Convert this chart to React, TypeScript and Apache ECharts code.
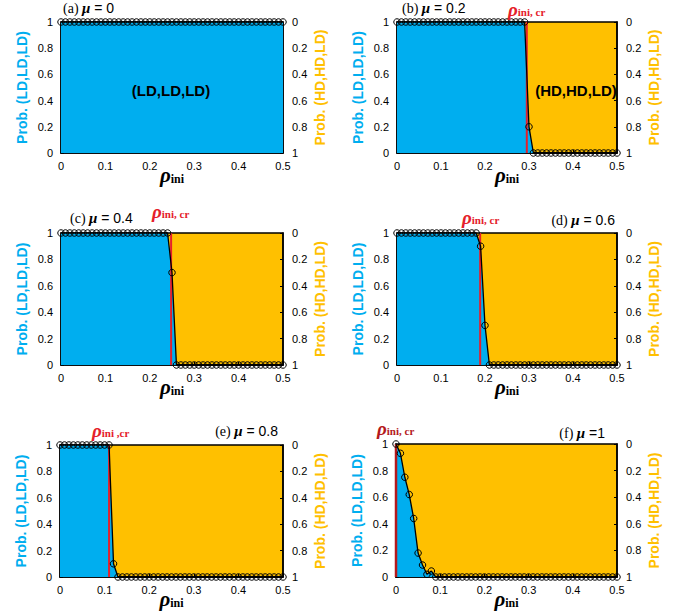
import React, { useEffect, useRef } from 'react';
import * as echarts from 'echarts';

// ---------------- data ----------------
const rhoIni = [
  0, 0.01, 0.02, 0.03, 0.04, 0.05, 0.06, 0.07, 0.08, 0.09,
  0.1, 0.11, 0.12, 0.13, 0.14, 0.15, 0.16, 0.17, 0.18, 0.19,
  0.2, 0.21, 0.22, 0.23, 0.24, 0.25, 0.26, 0.27, 0.28, 0.29,
  0.3, 0.31, 0.32, 0.33, 0.34, 0.35, 0.36, 0.37, 0.38, 0.39,
  0.4, 0.41, 0.42, 0.43, 0.44, 0.45, 0.46, 0.47, 0.48, 0.49, 0.5,
];

const panelLetters = ['(a)', '(b)', '(c)', '(d)', '(e)', '(f)'];
const muLabels = [' = 0', ' = 0.2', ' = 0.4', ' = 0.6', ' = 0.8', ' =1'];

// Prob. (LD,LD,LD) for mu = 0, 0.2, 0.4, 0.6, 0.8, 1
const probMu0 = [
  1, 1, 1, 1, 1, 1, 1, 1, 1, 1,
  1, 1, 1, 1, 1, 1, 1, 1, 1, 1,
  1, 1, 1, 1, 1, 1, 1, 1, 1, 1,
  1, 1, 1, 1, 1, 1, 1, 1, 1, 1,
  1, 1, 1, 1, 1, 1, 1, 1, 1, 1, 1,
];
const probMu02 = [
  1, 1, 1, 1, 1, 1, 1, 1, 1, 1,
  1, 1, 1, 1, 1, 1, 1, 1, 1, 1,
  1, 1, 1, 1, 1, 1, 1, 1, 1, 1,
  0.2, 0, 0, 0, 0, 0, 0, 0, 0, 0,
  0, 0, 0, 0, 0, 0, 0, 0, 0, 0, 0,
];
const probMu04 = [
  1, 1, 1, 1, 1, 1, 1, 1, 1, 1,
  1, 1, 1, 1, 1, 1, 1, 1, 1, 1,
  1, 1, 1, 1, 1, 0.7, 0, 0, 0, 0,
  0, 0, 0, 0, 0, 0, 0, 0, 0, 0,
  0, 0, 0, 0, 0, 0, 0, 0, 0, 0, 0,
];
const probMu06 = [
  1, 1, 1, 1, 1, 1, 1, 1, 1, 1,
  1, 1, 1, 1, 1, 1, 1, 1, 1, 0.9,
  0.3, 0, 0, 0, 0, 0, 0, 0, 0, 0,
  0, 0, 0, 0, 0, 0, 0, 0, 0, 0,
  0, 0, 0, 0, 0, 0, 0, 0, 0, 0, 0,
];
const probMu08 = [
  1, 1, 1, 1, 1, 1, 1, 1, 1, 1,
  1, 1, 0.1, 0, 0, 0, 0, 0, 0, 0,
  0, 0, 0, 0, 0, 0, 0, 0, 0, 0,
  0, 0, 0, 0, 0, 0, 0, 0, 0, 0,
  0, 0, 0, 0, 0, 0, 0, 0, 0, 0, 0,
];
const probMu1 = [
  1, 0.93, 0.75, 0.62, 0.44, 0.18, 0.09, 0.02, 0.045, 0,
  0, 0, 0, 0, 0, 0, 0, 0, 0, 0,
  0, 0, 0, 0, 0, 0, 0, 0, 0, 0,
  0, 0, 0, 0, 0, 0, 0, 0, 0, 0,
  0, 0, 0, 0, 0, 0, 0, 0, 0, 0, 0,
];
const panelProbs = [probMu0, probMu02, probMu04, probMu06, probMu08, probMu1];

// critical initial density (red line); null = none
const rhoCritical = [null, 0.295, 0.248, 0.189, 0.11, 0.0];
const critLabelTexts = ['', 'ini, cr', 'ini, cr', 'ini, cr', 'ini ,cr', 'ini, cr'];

// ---------------- style / layout ----------------
const BLUE = '#00AEEF';
const YELLOW = '#FFC000';
const RED = '#E5202B';
const DARK_RED = '#B4191C';
const SANS = 'Liberation Sans, Arial, Helvetica, sans-serif';
const SERIF = 'Liberation Serif, Times New Roman, serif';

const gridBoxes = [
  { left: 61, top: 22, width: 222, height: 131 },
  { left: 397, top: 22, width: 220, height: 131 },
  { left: 61, top: 233, width: 222, height: 132 },
  { left: 397, top: 233, width: 220, height: 132 },
  { left: 60, top: 445, width: 223, height: 132 },
  { left: 396, top: 444, width: 221, height: 133 },
];

const titlePos = [
  { x: 63, y: 8, align: 'left' },
  { x: 402, y: 8, align: 'left' },
  { x: 70, y: 218, align: 'left' },
  { x: 615, y: 220, align: 'right' },
  { x: 278, y: 431, align: 'right' },
  { x: 605, y: 433, align: 'right' },
];

const critLabelPos = [
  null,
  { x: 508, y: 9 },
  { x: 152, y: 211 },
  { x: 462, y: 217 },
  { x: 92, y: 430 },
  { x: 377, y: 428 },
];

function buildOption() {
  const grid = gridBoxes.map((b) => ({
    ...b,
    show: true,
    backgroundColor: YELLOW,
    borderColor: '#000',
    borderWidth: 1.5,
    containLabel: false,
  }));

  const axisLine = { show: true, onZero: false, lineStyle: { color: '#000', width: 1.5 } };
  const axisTick = { show: true, inside: true, length: 3, lineStyle: { color: '#000', width: 1 } };
  const axisLabel = { color: '#000', fontFamily: SANS, fontSize: 11 };

  const xAxis = gridBoxes.map((_, i) => ({
    type: 'value',
    gridIndex: i,
    min: 0,
    max: 0.5,
    interval: 0.1,
    axisLine,
    axisTick,
    axisLabel: { ...axisLabel, margin: 7 },
    splitLine: { show: false },
    name: '{r|ρ}{s|ini}',
    nameLocation: 'middle',
    nameGap: 11,
    nameMoveOverlap: false,
    nameTextStyle: {
      rich: {
        r: { fontFamily: SERIF, fontStyle: 'italic', fontWeight: 'bold', fontSize: 21, color: '#000' },
        s: { fontFamily: SERIF, fontWeight: 'bold', fontSize: 12, color: '#000', padding: [8, 0, 0, 0] },
      },
    },
  }));

  const yAxis: any[] = [];
  gridBoxes.forEach((_, i) => {
    yAxis.push({
      type: 'value',
      gridIndex: i,
      position: 'left',
      min: 0,
      max: 1,
      interval: 0.2,
      axisLine,
      axisTick,
      axisLabel: { ...axisLabel, margin: 8 },
      splitLine: { show: false },
      name: 'Prob. (LD,LD,LD)',
      nameLocation: 'middle',
      nameGap: 32,
      nameMoveOverlap: false,
      nameTextStyle: { color: BLUE, fontFamily: SANS, fontWeight: 'bold', fontSize: 14 },
    });
    yAxis.push({
      type: 'value',
      gridIndex: i,
      position: 'right',
      inverse: true,
      min: 0,
      max: 1,
      interval: 0.2,
      axisLine,
      axisTick,
      axisLabel: { ...axisLabel, margin: 9 },
      splitLine: { show: false },
      name: 'Prob. (HD,HD,LD)',
      nameLocation: 'middle',
      nameRotate: 90,
      nameGap: 30,
      nameMoveOverlap: false,
      nameTextStyle: { color: YELLOW, fontFamily: SANS, fontWeight: 'bold', fontSize: 14 },
    });
  });

  const series: any[] = [];
  panelProbs.forEach((probs, i) => {
    const data = rhoIni.map((x, k) => [x, probs[k]]);
    series.push({
      type: 'line',
      xAxisIndex: i,
      yAxisIndex: 2 * i,
      data,
      symbol: 'none',
      lineStyle: { width: 0, color: BLUE },
      areaStyle: { color: BLUE, opacity: 1 },
      silent: true,
      z: 2,
    });
    const xc = rhoCritical[i];
    if (xc !== null) {
      series.push({
        type: 'line',
        xAxisIndex: i,
        yAxisIndex: 2 * i,
        data: [[xc, 0], [xc, 1]],
        symbol: 'none',
        clip: false,
        lineStyle: { width: i === 5 ? 2.5 : 2, color: i === 5 ? DARK_RED : RED },
        silent: true,
        z: 3,
      });
    }
    series.push({
      type: 'line',
      xAxisIndex: i,
      yAxisIndex: 2 * i,
      data,
      symbol: 'circle',
      symbolSize: 6.5,
      clip: false,
      lineStyle: { width: 1.3, color: '#000' },
      itemStyle: { color: 'rgba(0,0,0,0)', borderColor: '#000', borderWidth: 1 },
      silent: true,
      z: 4,
    });
  });

  const graphic: any[] = [];
  titlePos.forEach((p, i) => {
    graphic.push({
      type: 'text',
      x: p.x,
      y: p.y,
      z: 10,
      style: {
        text: `{p|${panelLetters[i]} }{m|μ}{v|${muLabels[i]}}`,
        align: p.align,
        verticalAlign: 'middle',
        rich: {
          p: { fontFamily: SERIF, fontSize: 14, fill: '#000' },
          m: { fontFamily: SERIF, fontStyle: 'italic', fontWeight: 'bold', fontSize: 15, fill: '#000' },
          v: { fontFamily: SANS, fontSize: 14, fill: '#000' },
        },
      },
    });
  });
  critLabelPos.forEach((p, i) => {
    if (!p) return;
    graphic.push({
      type: 'text',
      x: p.x,
      y: p.y,
      z: 10,
      style: {
        text: `{r|ρ}{s|${critLabelTexts[i]}}`,
        align: 'left',
        verticalAlign: 'middle',
        rich: {
          r: { fontFamily: SERIF, fontStyle: 'italic', fontWeight: 'bold', fontSize: 19, lineHeight: 16, fill: i === 5 ? DARK_RED : RED },
          s: { fontFamily: SERIF, fontWeight: 'bold', fontSize: 11, lineHeight: 11, fill: i === 5 ? DARK_RED : RED, padding: [5, 0, 0, 0] },
        },
      },
    });
  });
  graphic.push({
    type: 'text',
    x: 171,
    y: 90,
    z: 10,
    style: { text: '(LD,LD,LD)', align: 'center', verticalAlign: 'middle', font: `bold 15px ${SANS}`, fill: '#000' },
  });
  graphic.push({
    type: 'text',
    x: 576,
    y: 90,
    z: 10,
    style: { text: '(HD,HD,LD)', align: 'center', verticalAlign: 'middle', font: `bold 15px ${SANS}`, fill: '#000' },
  });

  return {
    animation: false,
    backgroundColor: '#fff',
    grid,
    xAxis,
    yAxis,
    series,
    graphic,
  };
}

export default function App() {
  const ref = useRef<HTMLDivElement>(null);
  useEffect(() => {
    if (!ref.current) return;
    const chart = echarts.init(ref.current, undefined, { renderer: 'svg' });
    chart.setOption(buildOption() as any);
    return () => chart.dispose();
  }, []);
  return (
    <div
      ref={ref}
      style={{ position: 'absolute', left: 0, top: 0, width: 693, height: 616 }}
    />
  );
}
